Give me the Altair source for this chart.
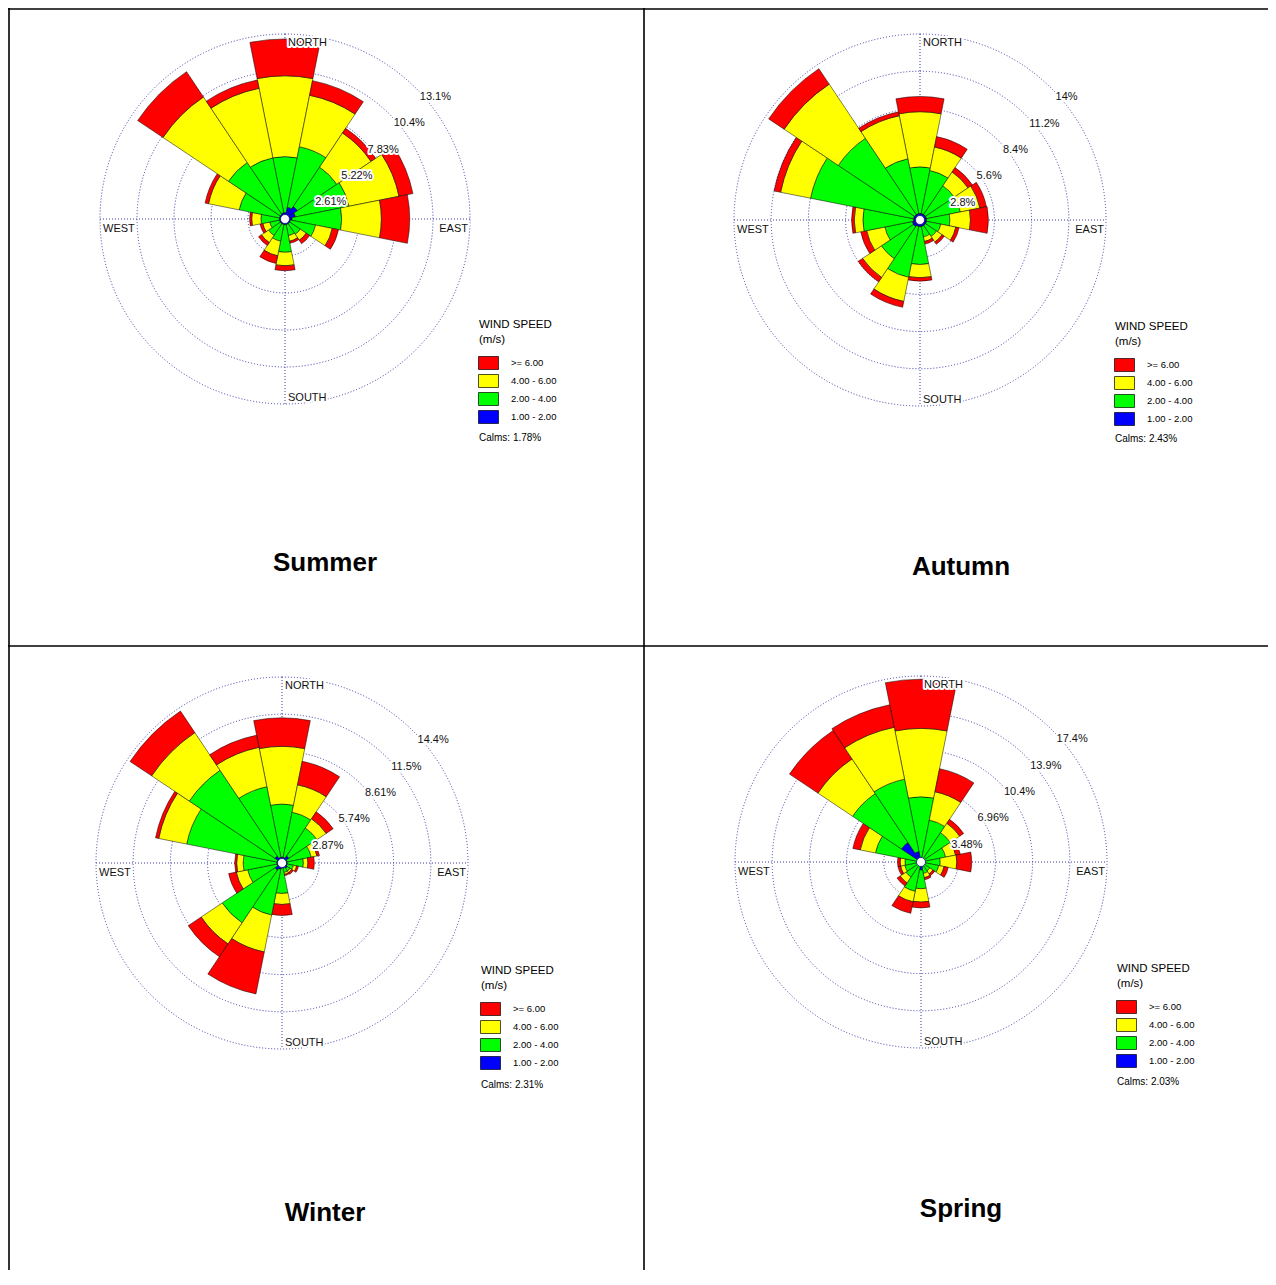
import math
import pandas as pd
import altair as alt

# ---------------- data ----------------
DIRECTIONS = ["N", "NNE", "NE", "ENE", "E", "ESE", "SE", "SSE",
              "S", "SSW", "SW", "WSW", "W", "WNW", "NW", "NNW"]
SPEED_CLASSES = ["1.00 - 2.00", "2.00 - 4.00", "4.00 - 6.00", ">= 6.00"]   # inner -> outer
LEGEND_ORDER = [">= 6.00", "4.00 - 6.00", "2.00 - 4.00", "1.00 - 2.00"]
COMPASS = ["NORTH", "EAST", "SOUTH", "WEST"]
SEASONS = ["Summer", "Autumn", "Winter", "Spring"]

# frequency (%) per direction for each speed class
summer_1_2 = [0.45, 0.85, 1.05, 0.75, 0.5, 0.4, 0.4, 0.4, 0.4, 0.4, 0.4, 0.4, 0.4, 0.4, 0.4, 0.45]
summer_2_4 = [3.95, 4.35, 3.35, 3.85, 3.5, 1.8, 0.9, 0.8, 1.95, 1.2, 1.0, 0.7, 1.3, 2.9, 4.4, 3.95]
summer_4_6 = [5.7, 3.7, 2.9, 3.6, 2.8, 1.2, 0.5, 0.4, 0.95, 1.05, 0.6, 0.5, 0.65, 2.2, 5.55, 5.0]
summer_6up = [2.6, 1.05, 0.4, 1.0, 2.0, 0.45, 0.3, 0.15, 0.35, 0.55, 0.25, 0.2, 0.15, 0.25, 2.15, 0.6]
summer_rings = [2.61, 5.22, 7.83, 10.44, 13.05]
summer_ring_labels = ["2.61%", "5.22%", "7.83%", "10.4%", "13.1%"]
summer_calms = 1.78

autumn_1_2 = [0.5, 0.5, 0.5, 0.5, 0.5, 0.5, 0.5, 0.5, 0.5, 0.5, 0.6, 0.6, 0.5, 0.5, 0.5, 0.5]
autumn_2_4 = [3.5, 3.3, 2.6, 2.6, 1.75, 1.1, 1.0, 0.8, 2.85, 3.9, 2.9, 2.1, 3.8, 7.9, 6.9, 4.2]
autumn_4_6 = [4.15, 1.8, 1.25, 1.5, 1.55, 1.15, 0.5, 0.35, 1.0, 1.85, 1.7, 1.4, 0.65, 2.3, 4.9, 3.3]
autumn_6up = [1.15, 0.8, 0.4, 0.5, 1.35, 0.25, 0.2, 0.2, 0.25, 0.45, 0.4, 0.45, 0.2, 0.5, 1.4, 0.3]
autumn_rings = [2.8, 5.6, 8.4, 11.2, 14.0]
autumn_ring_labels = ["2.8%", "5.6%", "8.4%", "11.2%", "14%"]
autumn_calms = 2.43

winter_1_2 = [0.45, 0.45, 0.65, 0.4, 0.4, 0.4, 0.5, 0.4, 0.4, 0.5, 0.65, 0.4, 0.4, 0.4, 0.65, 0.45]
winter_2_4 = [4.1, 3.55, 2.6, 1.9, 1.25, 0.5, 0.25, 0.35, 1.95, 3.6, 4.9, 2.3, 2.6, 7.1, 7.95, 5.55]
winter_4_6 = [4.45, 2.15, 0.85, 0.45, 0.35, 0.25, 0.15, 0.15, 0.85, 2.9, 1.95, 0.9, 0.5, 2.2, 3.5, 3.1]
winter_6up = [2.2, 1.85, 0.65, 0.2, 0.5, 0.15, 0.15, 0.1, 0.85, 3.3, 1.2, 0.6, 0.15, 0.25, 2.0, 0.95]
winter_rings = [2.87, 5.74, 8.61, 11.48, 14.35]
winter_ring_labels = ["2.87%", "5.74%", "8.61%", "11.5%", "14.4%"]
winter_calms = 2.31

spring_1_2 = [0.35, 0.35, 0.35, 0.35, 0.35, 0.35, 0.35, 0.45, 0.75, 0.35, 0.35, 0.35, 0.35, 0.35, 2.2, 1.0]
spring_2_4 = [5.75, 3.65, 2.95, 2.0, 1.45, 1.35, 0.65, 0.65, 1.75, 2.45, 1.35, 1.2, 1.15, 4.0, 5.5, 6.9]
spring_4_6 = [6.4, 2.7, 1.05, 0.95, 1.55, 0.5, 0.35, 0.4, 1.25, 1.0, 0.65, 0.4, 0.45, 1.45, 3.9, 4.95]
spring_6up = [4.6, 2.2, 0.45, 0.45, 1.4, 0.4, 0.2, 0.2, 0.55, 1.1, 0.35, 0.25, 0.25, 0.7, 3.2, 2.15]
spring_rings = [3.48, 6.96, 10.44, 13.92, 17.4]
spring_ring_labels = ["3.48%", "6.96%", "10.4%", "13.9%", "17.4%"]
spring_calms = 2.03

# ---------------- style / layout ----------------
FONT = "Liberation Sans"
COLORS = ["#FF0000", "#FFFF00", "#00FF00", "#0000FF"]        # same order as LEGEND_ORDER
RING_COLOR = "#3a3aa8"
RECT = "M-1.111,-0.722L1.111,-0.722L1.111,0.722L-1.111,0.722Z"  # 20 x 13 swatch at size 324
W, H = 1260, 1262


def text_pair(chart, **props):
    """white halo under dark text"""
    halo = chart.mark_text(font=FONT, color="white", stroke="white",
                           strokeWidth=4, strokeJoin="round", **props)
    fg = chart.mark_text(font=FONT, color="#111111", **props)
    return [halo, fg]


def rose(title, classes, rings, ring_labels, calms, cx, cy, R, leg, calm_xy, title_xy):
    rows = []
    for i, d in enumerate(DIRECTIONS):
        a0 = math.radians((i * 22.5 - 11.25) % 360)
        a1 = a0 + math.radians(22.5)
        cum = 0.0
        for cls, vals in zip(SPEED_CLASSES, classes):
            rows.append(dict(direction=d, speed=cls, t0=a0, t1=a1, r0=cum, r1=cum + vals[i]))
            cum += vals[i]
    bars_df = pd.DataFrame(rows)
    ring_df = pd.DataFrame({"v": rings, "label": ring_labels})
    one = pd.DataFrame({"k": [0]})
    rscale = alt.Scale(type="linear", domain=[0, rings[-1]], range=[0, R])
    center = dict(x=alt.value(cx), y=alt.value(cy))

    ring_marks = alt.Chart(ring_df).mark_arc(
        fillOpacity=0, stroke=RING_COLOR, strokeWidth=1, strokeDash=[1, 2]
    ).encode(theta=alt.value(0), theta2=alt.value(2 * math.pi),
             radius=alt.Radius("v:Q", scale=rscale, stack=False), **center)

    hline = alt.Chart(one).mark_rule(color=RING_COLOR, strokeWidth=1, strokeDash=[1, 2]).encode(
        x=alt.value(cx - R), x2=alt.value(cx + R), y=alt.value(cy))
    vline = alt.Chart(one).mark_rule(color=RING_COLOR, strokeWidth=1, strokeDash=[1, 2]).encode(
        y=alt.value(cy - R), y2=alt.value(cy + R), x=alt.value(cx))

    bars = alt.Chart(bars_df).mark_arc(stroke="black", strokeWidth=0.5).encode(
        theta=alt.Theta("t0:Q", scale=None), theta2="t1:Q",
        radius=alt.Radius("r1:Q", scale=rscale), radius2="r0:Q",
        fill=alt.Fill("speed:N", scale=alt.Scale(domain=LEGEND_ORDER, range=COLORS),
                      legend=alt.Legend(
                          orient="none", legendX=leg[0], legendY=leg[1], direction="vertical",
                          title=["WIND SPEED", "(m/s)"], titleFont=FONT, titleFontSize=11.5,
                          titleFontWeight="normal", titleColor="black", titleLineHeight=15,
                          titlePadding=8, labelFont=FONT, labelFontSize=9.5, labelColor="black",
                          labelOffset=13, symbolType=RECT, symbolSize=324,
                          symbolStrokeColor="black", symbolStrokeWidth=0.7, rowPadding=0,
                          padding=0, offset=0)),
        tooltip=["direction:N", "speed:N"],
        **center)

    calm_dot = alt.Chart(one).mark_arc(fill="white", stroke="#000080", strokeWidth=0.7).encode(
        theta=alt.value(0), theta2=alt.value(2 * math.pi), radius=alt.value(4.5), **center)

    layers = [ring_marks, hline, vline, bars, calm_dot]

    lbl = alt.Chart(ring_df).encode(theta=alt.value(math.pi / 4),
                                    radius=alt.Radius("v:Q", scale=rscale, stack=False),
                                    text="label:N", **center)
    layers += text_pair(lbl, align="left", baseline="top", dx=4, dy=3, fontSize=11)

    comp = pd.DataFrame({"label": COMPASS})
    specs = [
        (0, 0.0, dict(align="left", baseline="top", dx=3, dy=3)),
        (1, math.pi / 2, dict(align="right", baseline="top", dx=-2, dy=4)),
        (2, math.pi, dict(align="left", baseline="bottom", dx=3, dy=-1)),
        (3, 3 * math.pi / 2, dict(align="left", baseline="top", dx=3, dy=4)),
    ]
    for idx, th, props in specs:
        c = alt.Chart(comp.iloc[[idx]]).encode(theta=alt.value(th),
                                               radius=alt.Radius(datum=rings[-1], scale=rscale),
                                               text="label:N", **center)
        layers += text_pair(c, fontSize=11, **props)

    calm_df = pd.DataFrame({"t": [f"Calms: {calms:.2f}%"]})
    layers.append(alt.Chart(calm_df).mark_text(font=FONT, fontSize=10, align="left",
                                               baseline="middle", color="black").encode(
        text="t:N", x=alt.value(calm_xy[0]), y=alt.value(calm_xy[1])))

    title_df = pd.DataFrame({"t": [title]})
    layers.append(alt.Chart(title_df).mark_text(font=FONT, fontSize=26, fontWeight="bold",
                                                align="center", baseline="middle",
                                                color="black").encode(
        text="t:N", x=alt.value(title_xy[0]), y=alt.value(title_xy[1])))
    return alt.layer(*layers)


one_row = pd.DataFrame({"k": [0]})
bk = dict(color="black", strokeWidth=1.6)
borders = [
    alt.Chart(one_row).mark_rule(**bk).encode(x=alt.value(0), x2=alt.value(W), y=alt.value(1)),
    alt.Chart(one_row).mark_rule(**bk).encode(y=alt.value(0), y2=alt.value(H), x=alt.value(1)),
    alt.Chart(one_row).mark_rule(**bk).encode(y=alt.value(0), y2=alt.value(H), x=alt.value(636)),
    alt.Chart(one_row).mark_rule(**bk).encode(x=alt.value(0), x2=alt.value(W), y=alt.value(638)),
]

summer = rose(SEASONS[0], [summer_1_2, summer_2_4, summer_4_6, summer_6up],
              summer_rings, summer_ring_labels, summer_calms,
              277, 211, 185, (471, 311), (471, 430), (317, 555))
autumn = rose(SEASONS[1], [autumn_1_2, autumn_2_4, autumn_4_6, autumn_6up],
              autumn_rings, autumn_ring_labels, autumn_calms,
              912, 212, 186, (1107, 313), (1107, 431), (953, 559))
winter = rose(SEASONS[2], [winter_1_2, winter_2_4, winter_4_6, winter_6up],
              winter_rings, winter_ring_labels, winter_calms,
              274, 855, 186, (473, 957), (473, 1077), (317, 1205))
spring = rose(SEASONS[3], [spring_1_2, spring_2_4, spring_4_6, spring_6up],
              spring_rings, spring_ring_labels, spring_calms,
              913, 854, 186, (1109, 955), (1109, 1074), (953, 1201))

chart = alt.layer(*borders, summer, autumn, winter, spring).resolve_scale(
    radius="independent", fill="independent"
).resolve_legend(fill="independent").properties(
    width=W, height=H, padding=0,
    autosize=alt.AutoSizeParams(type="none"),
    background="white",
).configure_view(strokeWidth=0)

chart.save("out.html", embed_options={"renderer": "svg", "actions": False})
